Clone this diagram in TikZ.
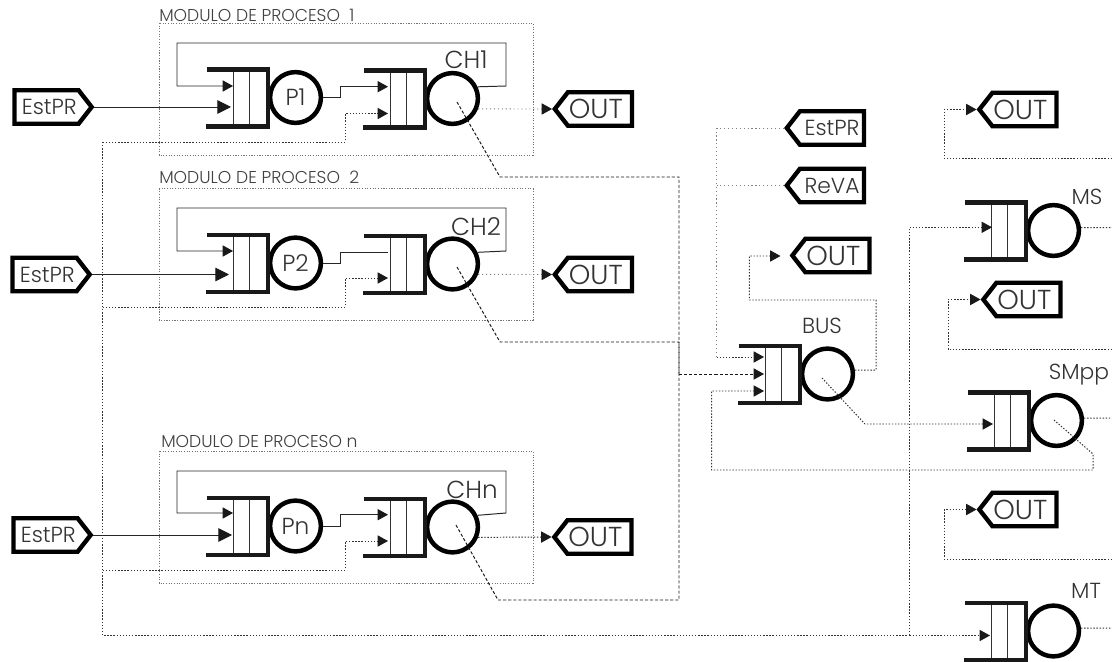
\documentclass[tikz,border=0pt]{standalone}
\usepackage{fontspec}
\setmainfont{Poppins Light}
\usetikzlibrary{shapes.symbols,arrows.meta}

% queue with server: name, x of the closing bar, y of the middle, text in the circle
\newcommand{\queuesrv}[4]{
  \node[server] (#1) at (#2+27.5,#3) {#4};
  \draw[thinbar] (#2-35,#3-28) -- (#2-35,#3+29);
  \draw[thinbar] (#2-19,#3-28) -- (#2-19,#3+29);
  \draw[queuebar] (#2-61,#3-28) -- (#2,#3-28) -- (#2,#3+29) -- (#2-62,#3+29);
}

\begin{document}
\begin{tikzpicture}[
  x=0.025cm, y=-0.025cm,
  server/.style={circle, draw, line width=3.2pt, minimum size=1.27cm, inner sep=0pt,
                 fill=white, text=black!80, font=\fontsize{16.5}{17}\selectfont},
  thinbar/.style={line width=0.7pt, black!80},
  queuebar/.style={line width=3.2pt, black!90},
  source/.style={signal, signal to=east, signal pointer angle=104, draw, line width=3.1pt,
                 minimum width=1.93cm, minimum height=0.84cm, inner sep=0pt, fill=white,
                 text=black!80, font=\fontsize{15.5}{16}\selectfont,
                 execute at begin node={\hspace{4pt}}},
  sink/.style={signal, signal to=west, signal pointer angle=104, draw, line width=3.1pt,
               minimum width=1.93cm, minimum height=0.84cm, inner sep=0pt, fill=white,
               text=black!80, font=\fontsize{15.5}{16}\selectfont},
  outsink/.style={sink, font=\fontsize{19.5}{20}\selectfont,
                  execute at end node={\hspace{6pt}}},
  frame/.style={line width=0.6pt, black!55, dash pattern=on 0.8pt off 1.1pt},
  caption/.style={anchor=base west, inner sep=0pt, text=black!75, font=\fontsize{12.2}{13}\selectfont},
  tag/.style={inner sep=0pt, text=black!80, font=\fontsize{15.5}{16}\selectfont},
  chtag/.style={tag, font=\fontsize{17.5}{18}\selectfont},
  wire/.style={line width=0.7pt, black!85},
  dotwire/.style={line width=0.7pt, black!80, dash pattern=on 1pt off 1.2pt},
  dashwire/.style={line width=0.7pt, black!90, dash pattern=on 2.2pt off 1.4pt},
  lightwire/.style={line width=0.6pt, black!50, dash pattern=on 0.8pt off 2pt},
  tip/.style={-{Triangle[length=0.26cm, width=0.28cm, black!90]}},
  bigtip/.style={-{Triangle[length=0.34cm, width=0.34cm, black!90]}},
]
  \useasboundingbox (0,0) rectangle (1112,662);

  % ===== Process modules =====
  \draw[frame] (159,23) rectangle (533,155);
  \node[caption] (cap1) at (159,22) {MODULO DE PROCESO\ \ 1};
  \draw[frame] (159,188.5) rectangle (533,320);
  \node[caption] (cap2) at (159,184) {MODULO DE PROCESO\ \ 2};
  \draw[frame] (159,451) rectangle (533,583);
  \node[caption] (capn) at (161,447) {MODULO DE PROCESO n};

  % ===== Queues =====
  \queuesrv{p1}{268}{97.5}{P1\hspace{5pt}}
  \queuesrv{ch1}{425}{98.5}{}
  \queuesrv{p2}{268}{263}{P2\hspace{5pt}}
  \queuesrv{ch2}{425}{264}{}
  \queuesrv{pn}{268}{526}{Pn}
  \queuesrv{chn}{425}{527}{}
  \queuesrv{bus}{800}{374}{}
  \queuesrv{ms}{1026}{230.5}{}
  \queuesrv{smpp}{1029}{420.5}{}
  \queuesrv{mt}{1026}{631}{}

  \node[chtag] (ch1tag) at (466,60) {CH1};
  \node[chtag] (ch2tag) at (476,227) {CH2};
  \node[chtag] (chntag) at (472,490) {CHn};
  \node[tag] (bustag) at (822,326) {BUS};
  \node[tag] (mstag) at (1087,197) {MS};
  \node[tag] (smpptag) at (1079,375) {SMpp};
  \node[tag] (mttag) at (1086,591) {MT};

  % ===== Sources and sinks =====
  \node[source] (est1) at (46.5,107) {EstPR};
  \node[source] (est2) at (44.5,274.5) {EstPR};
  \node[source] (estn) at (45.5,535) {EstPR};
  \node[outsink] (out1) at (600,109) {OUT};
  \node[outsink] (out2) at (600,274.5) {OUT};
  \node[outsink] (outn) at (599.5,537) {OUT};
  \node[sink] (estbus) at (832,128) {EstPR\hspace{4pt}};
  \node[sink] (revabus) at (832,185.5) {ReVA};
  \node[outsink] (outbus) at (837.5,255.5) {OUT};
  \node[outsink] (outms) at (1024.5,109.5) {OUT};
  \node[outsink] (outsm) at (1028.5,299.5) {OUT};
  \node[outsink] (outmt) at (1024.5,509.5) {OUT};

  % ===== Named ends =====
  \coordinate (p1a) at (233,86);
  \coordinate (p1b) at (231,107);
  \coordinate (ch1a) at (388,86.7);
  \coordinate (ch1b) at (388,113.5);
  \coordinate (ch1d) at (457,102);
  \coordinate (p2a) at (233,251);
  \coordinate (p2b) at (229,274.5);
  \coordinate (ch2a) at (388,252);
  \coordinate (ch2b) at (388,278);
  \coordinate (ch2d) at (457,267);
  \coordinate (pna) at (233,513);
  \coordinate (pnb) at (232,535);
  \coordinate (chna) at (388,514.7);
  \coordinate (chnb) at (388,541);
  \coordinate (chnd) at (456,525);
  \coordinate (busa) at (764,357);
  \coordinate (busb) at (764,374);
  \coordinate (busc) at (764,391);
  \coordinate (busj) at (679,374);
  \coordinate (busd) at (822,378);
  \coordinate (outbusa) at (780.5,256);
  \coordinate (msa) at (992,227.3);
  \coordinate (smppa) at (993,424);
  \coordinate (smppd) at (1054,420);
  \coordinate (mta) at (990,635.5);
  \coordinate (mainj) at (909.5,635.5);

  % ===== Module 1 =====
  \draw[wire, tip] (ch1.25) -- (506,86) -- (506,43) -- (177,43) -- (177,86) -- (p1a);
  \draw[wire, bigtip] (est1.east) -- (p1b);
  \draw[wire, tip] (p1.east) -- (340,97.5) -- (340,86.7) -- (ch1a);
  \draw[dotwire, tip] (102.7,142) -- (345.5,142) -- (345.5,113.5) -- (ch1b);
  \draw[lightwire, tip] (ch1.-22) -- (out1.west);
  \draw[dashwire] (ch1d) -- (500,177) -| (busj);

  % ===== Module 2 =====
  \draw[wire, tip] (ch2.25) -- (506,251) -- (506,208) -- (177,208) -- (177,251) -- (p2a);
  \draw[wire, bigtip] (est2.east) -- (p2b);
  \draw[wire] (p2.east) -- (340,263) -- (340,252) -- (ch2a);
  \draw[dotwire, tip] (102.7,307) -- (345.5,307) -- (345.5,278) -- (ch2b);
  \draw[lightwire, tip] (ch2.-22) -- (out2.west);
  \draw[dashwire] (ch2d) -- (500,342) -| (busj);

  % ===== Module n =====
  \draw[wire, tip] (chn.25) -- (506,513) -- (506,471) -- (177,471) -- (177,513) -- (pna);
  \draw[wire, bigtip] (estn.east) -- (pnb);
  \draw[wire, tip] (pn.east) -- (340,526) -- (340,514.7) -- (chna);
  \draw[dotwire, tip] (102.7,570) -- (345.5,570) -- (345.5,541) -- (chnb);
  \draw[dotwire, tip] (chn.-22) -- (outn.west);
  \draw[dashwire] (chnd) -- (498,600) -| (busj);

  % ===== Bus =====
  \draw[dashwire, tip] (busj) -- (busb);
  \draw[lightwire] (estbus.west) -- (716.7,128) -- (716.7,357);
  \draw[lightwire] (revabus.west) -- (716.7,185.5);
  \draw[dotwire, tip] (716.7,357) -- (busa);
  \draw[dotwire, tip] (bus.8) -- (876,370) -- (876,300) -- (749.3,300) -- (749.3,256) -- (outbusa);
  \draw[dotwire, tip] (smppd) -- (1093,454) -- (1093,470) -- (711.7,470) -- (711.7,391) -- (busc);
  \draw[dotwire, tip] (busd) -- (865,424) -- (smppa);

  % ===== Main line and right column =====
  \draw[dotwire] (102.7,142) -- (102.7,635.5) -- (mainj);
  \draw[dotwire, tip] (mainj) -- (mta);
  \draw[dotwire, tip] (mainj) -- (909.5,227.3) -- (msa);
  \draw[dotwire] (ms.6) -- (1112,227.7);
  \draw[dotwire] (smpp.5) -- (1112,418);
  \draw[dotwire] (mt.6) -- (1112,628);
  \draw[dotwire, tip] (1112,158.7) -- (944.3,158.7) -- (944.3,109.5) -- (outms.west);
  \draw[dotwire, tip] (1112,349) -- (948,349) -- (948,299.5) -- (outsm.west);
  \draw[dotwire, tip] (1112,559.3) -- (944.3,559.3) -- (944.3,509.5) -- (outmt.west);

\end{tikzpicture}
\end{document}
